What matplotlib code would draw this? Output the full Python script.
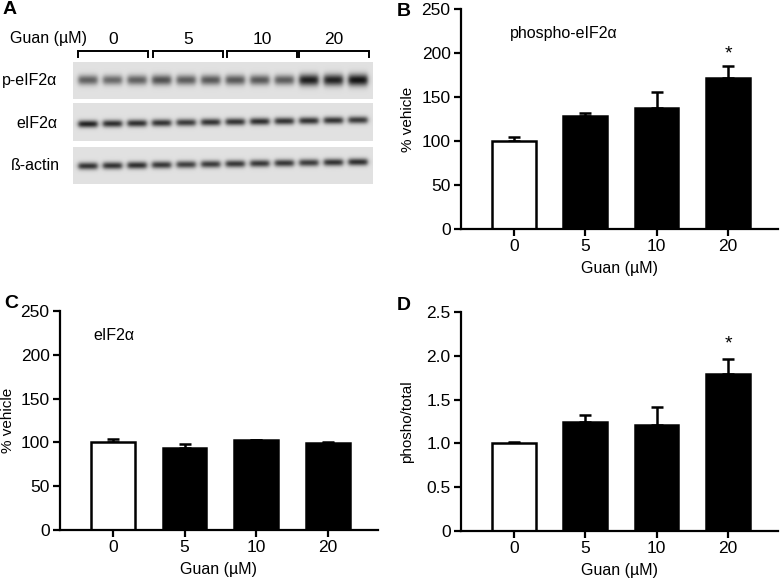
import numpy as np
import matplotlib
matplotlib.use("Agg")
import matplotlib.pyplot as plt

plt.rcParams['font.family'] = ['Liberation Sans', 'DejaVu Sans']

# data
doses = ["0", "5", "10", "20"]
phospho_mean = [100, 128, 138, 172]
phospho_err = [5, 4, 18, 13]
total_mean = [100, 94, 102.5, 99.5]
total_err = [4, 4, 0.8, 1.2]
ratio_mean = [1.0, 1.25, 1.21, 1.79]
ratio_err = [0.02, 0.07, 0.21, 0.17]

# blot band darkness per lane (12 lanes, 3 per dose)
blot_rows = ["p-eIF2\u03b1", "eIF2\u03b1", "\u00df-actin"]
band_p = [0.62, 0.58, 0.62, 0.70, 0.64, 0.66, 0.66, 0.66, 0.64, 0.95, 0.93, 1.0]
band_t = [0.92, 0.86, 0.86, 0.84, 0.80, 0.84, 0.84, 0.86, 0.84, 0.84, 0.84, 0.80]
band_a = [0.84, 0.84, 0.86, 0.82, 0.78, 0.80, 0.82, 0.82, 0.82, 0.80, 0.84, 0.86]

W, H = 780, 582
fig = plt.figure(figsize=(7.8, 5.82), dpi=100)


def ax_px(left, top, right, bottom):
    return fig.add_axes([left / W, 1 - bottom / H, (right - left) / W, (bottom - top) / H])


def bar_panel(ax, means, errs, ylim, yticks, yticklabels, ylabel, title, title_x,
              ylab_x, star_y=None):
    x = np.arange(len(means))
    colors = ["white"] + ["black"] * (len(means) - 1)
    ax.bar(x, means, width=0.61, color=colors, edgecolor="black", linewidth=1.8, zorder=2)
    ax.errorbar(x, means, yerr=[np.zeros(len(errs)), errs], fmt="none", ecolor="black",
                elinewidth=1.8, capsize=4, capthick=1.8, zorder=1)
    ax.set_xlim(-0.74, 3.7)
    ax.set_ylim(*ylim)
    ax.set_yticks(yticks)
    ax.set_yticklabels(yticklabels)
    ax.set_xticks(x)
    ax.set_xticklabels(doses)
    for s in ["top", "right"]:
        ax.spines[s].set_visible(False)
    for s in ["left", "bottom"]:
        ax.spines[s].set_linewidth(1.6)
    ax.tick_params(width=1.6, length=5, labelsize=12.5, pad=2.5)
    ax.set_xlabel("Guan (\u00b5M)", fontsize=11.5, labelpad=5)
    ax.set_ylabel(ylabel, fontsize=11)
    ax.yaxis.set_label_coords(ylab_x, 0.5)
    ax.text(title_x, 0.89, title, transform=ax.transAxes, fontsize=11.5, va="center")
    if star_y is not None:
        ax.text(3, star_y, "*", ha="center", va="center", fontsize=14)


axB = ax_px(461, 9, 778, 229)
bar_panel(axB, phospho_mean, phospho_err, (0, 250), [0, 50, 100, 150, 200, 250],
          ["0", "50", "100", "150", "200", "250"], "% vehicle", "phospho-eIF2\u03b1",
          0.155, -0.145, star_y=199)

axC = ax_px(60, 311, 378, 530)
bar_panel(axC, total_mean, total_err, (0, 250), [0, 50, 100, 150, 200, 250],
          ["0", "50", "100", "150", "200", "250"], "% vehicle", "eIF2\u03b1",
          0.104, -0.142)

axD = ax_px(461, 312, 778, 531)
bar_panel(axD, ratio_mean, ratio_err, (0, 2.5), [0, 0.5, 1.0, 1.5, 2.0, 2.5],
          ["0", "0.5", "1.0", "1.5", "2.0", "2.5"], "phosho/total", "",
          0.155, -0.148, star_y=2.13)

# panel A: western blot drawn in pixel coordinates
axA = fig.add_axes([0, 1 - 200 / H, 390 / W, 200 / H])
axA.axis("off")

lanes = np.linspace(88, 358, 12)
strips = [(62, 99, 80, 80, 3.0, band_p), (103, 141, 124, 120, 2.6, band_t),
          (147, 184, 166, 162, 2.6, band_a)]
bg = 0.88
for top, bottom, yl, yr, sig, dark in strips:
    xs = np.arange(73, 373) + 0.5
    ys = np.arange(top, bottom) + 0.5
    X, Y = np.meshgrid(xs, ys)
    d = np.zeros_like(X)
    for cx, k in zip(lanes, dark):
        cy = yl + (yr - yl) * (cx - lanes[0]) / (lanes[-1] - lanes[0])
        s = sig * (0.8 + 0.6 * k) if dark is band_p else sig
        fx = 1 / (1 + np.exp((np.abs(X - cx) - 9.5) / 1.3))
        fy = np.exp(-0.5 * ((Y - cy) / s) ** 2)
        d += k * fx * fy
    img = bg - (bg - 0.08) * np.clip(d, 0, 1)
    axA.imshow(img, cmap="gray", vmin=0, vmax=1, extent=(73, 373, bottom, top),
               interpolation="bilinear", aspect="auto", zorder=1)

for name, xc, yc in zip(blot_rows, [30, 37, 35], [80, 124, 166]):
    axA.text(xc, yc, name, ha="center", va="center", fontsize=11.5)

groups = [(78, 148), (153, 223), (227, 297), (299, 369)]
for (a, b), lab in zip(groups, doses):
    axA.plot([a, a, b, b], [57, 51, 51, 57], color="black", lw=1.4, solid_joinstyle="miter")
    axA.text((a + b) / 2, 39, lab, ha="center", va="center", fontsize=12.5)
axA.text(10, 39, "Guan (\u00b5M)", ha="left", va="center", fontsize=11.5)

axA.set_xlim(0, 390)
axA.set_ylim(200, 0)

# panel letters
for lab, x, y in [("A", 3, 9), ("B", 397, 12), ("C", 4, 304), ("D", 397, 305)]:
    fig.text(x / W, 1 - y / H, lab, fontsize=14, fontweight="bold", ha="left", va="center")

fig.savefig("out.png", dpi=100)
